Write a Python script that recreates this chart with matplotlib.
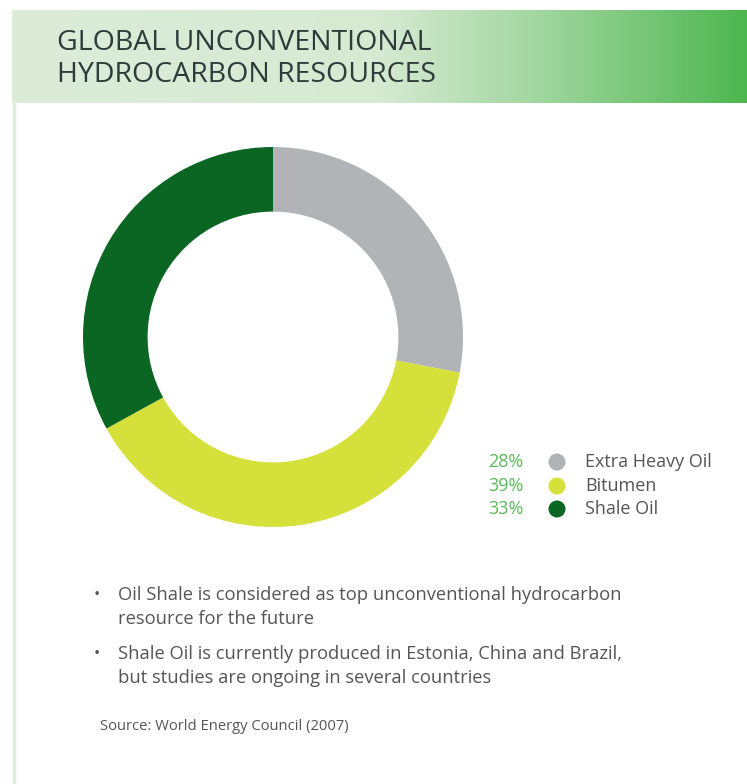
import numpy as np
import matplotlib
matplotlib.use("Agg")
import matplotlib.pyplot as plt
from matplotlib.colors import LinearSegmentedColormap

# ---- data ----
categories = ["Extra Heavy Oil", "Bitumen", "Shale Oil"]
shares = [28, 39, 33]
pct_labels = ["28%", "39%", "33%"]
colors = ["#b1b3b6", "#d6e03a", "#0b6623"]
title_lines = ["GLOBAL UNCONVENTIONAL", "HYDROCARBON RESOURCES"]
bullets = [
    ["Oil Shale is considered as top unconventional hydrocarbon",
     "resource for the future"],
    ["Shale Oil is currently produced in Estonia, China and Brazil,",
     "but studies are ongoing in several countries"],
]
source = "Source: World Energy Council (2007)"

W, H = 747, 784
fig = plt.figure(figsize=(W / 100, H / 100), dpi=100)
fig.patch.set_facecolor("white")
FONT = "Open Sans"

# background axes in pixel coordinates
bg = fig.add_axes([0, 0, 1, 1])
bg.set_xlim(0, W)
bg.set_ylim(H, 0)
bg.axis("off")

# card left border
bg.plot([14, 14], [100, H], color="#dfeedd", lw=2.5, solid_capstyle="butt")

# header gradient
cmap = LinearSegmentedColormap.from_list(
    "hdr", [(0.0, "#dcecd9"), (0.5, "#d6ead2"), (0.7, "#a6d8a4"),
            (0.88, "#72c473"), (1.0, "#4db74f")])
grad = np.linspace(0, 1, 400).reshape(1, -1)
bg.imshow(grad, cmap=cmap, aspect="auto", extent=[12, W, 103, 10],
          interpolation="bilinear")
bg.set_xlim(0, W)
bg.set_ylim(H, 0)

# title
for i, line in enumerate(title_lines):
    bg.text(57, 43 + i * 32, line, fontsize=20.5, family=FONT, color="#2f3b3b",
            va="center", ha="left")

# legend
ys = [462, 486, 509]
for y, p, c, lab in zip(ys, pct_labels, colors, categories):
    bg.text(488, y, p, fontsize=13, family=FONT, color="#5cb85c",
            va="center", ha="left")
    bg.scatter([557], [y], s=150, color=c, edgecolors="none")
    bg.text(585, y, lab, fontsize=13, family=FONT, color="#555555",
            va="center", ha="left")

# bullets
by = [595, 654]
for y0, lines in zip(by, bullets):
    bg.text(97, y0, "•", fontsize=12, family=FONT, color="#555555",
            va="center", ha="center")
    for j, line in enumerate(lines):
        bg.text(118, y0 + j * 24, line, fontsize=13.2, family=FONT,
                color="#555555", va="center", ha="left")

bg.text(100, 727, source, fontsize=10.6, family=FONT, color="#555555",
        va="center", ha="left")

# donut
cx, cy, r = 273, 337, 190
ax = fig.add_axes([(cx - r) / W, 1 - (cy + r) / H, 2 * r / W, 2 * r / H])
ax.pie(shares, colors=colors, startangle=90, counterclock=False,
       radius=1.0, wedgeprops=dict(width=0.34, edgecolor="none"))
ax.set_xlim(-1, 1)
ax.set_ylim(-1, 1)
ax.set_aspect("equal")
ax.axis("off")

fig.savefig("out.png", dpi=100, facecolor="white")
